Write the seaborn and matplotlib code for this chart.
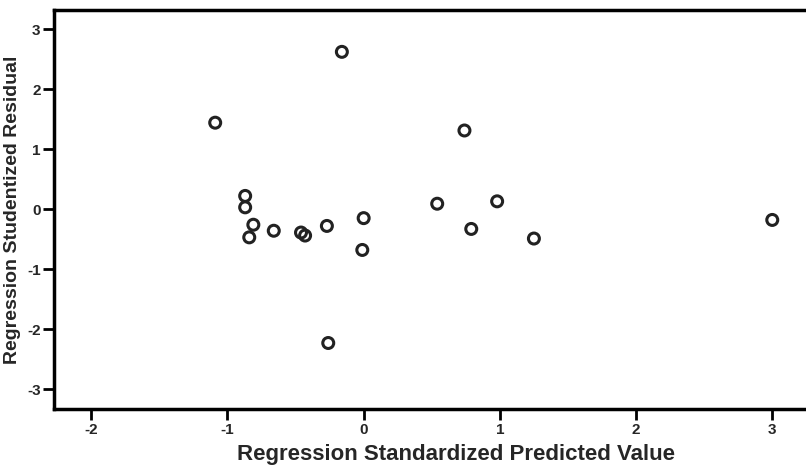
import pandas as pd
import matplotlib.pyplot as plt
import seaborn as sns

# Values
pred = [-0.16, -1.09, 0.74, -0.87, -0.87, -0.81, -0.84, -0.66, -0.46, -0.43,
        -0.27, 0.00, -0.01, 0.54, 0.98, 0.79, 1.25, 3.00, -0.26]
resid = [2.62, 1.44, 1.31, 0.22, 0.03, -0.26, -0.47, -0.36, -0.39, -0.44,
         -0.28, -0.15, -0.68, 0.09, 0.13, -0.33, -0.49, -0.18, -2.23]
xticks = [-2, -1, 0, 1, 2, 3]
yticks = [-3, -2, -1, 0, 1, 2, 3]

df = pd.DataFrame({"pred": pred, "resid": resid})

sns.set_style("white")
plt.rcParams["font.family"] = ["Liberation Sans", "DejaVu Sans"]

fig = plt.figure(figsize=(8.06, 4.68), dpi=100)
# the scanned frame runs past the right edge of the page
ax = fig.add_axes([0.0676, 0.126, 0.997, 0.853])

sns.scatterplot(data=df, x="pred", y="resid", ax=ax, s=62, marker="o",
                facecolor="none", edgecolor="#222222", linewidth=2.2)

ax.set_xlim(-2.27, 3.63)
ax.set_ylim(-3.33, 3.32)
ax.set_xticks(xticks)
ax.set_yticks(yticks)
ax.set_xticklabels([str(t) for t in xticks], fontsize=11, fontweight="bold")
ax.set_yticklabels([str(t) for t in yticks], fontsize=11, fontweight="bold")
ax.tick_params(bottom=True, left=True, direction="out", length=8, width=2,
               color="black", pad=2)

for side in ["left", "bottom", "top"]:
    ax.spines[side].set_linewidth(2.5)
    ax.spines[side].set_color("black")
ax.spines["right"].set_visible(False)

ax.set_xlabel("Regression Standardized Predicted Value", fontsize=16,
              fontweight="bold", labelpad=5)
ax.set_ylabel("Regression Studentized Residual", fontsize=14,
              fontweight="bold", labelpad=4)

plt.savefig("out.png", dpi=100)
plt.close()
